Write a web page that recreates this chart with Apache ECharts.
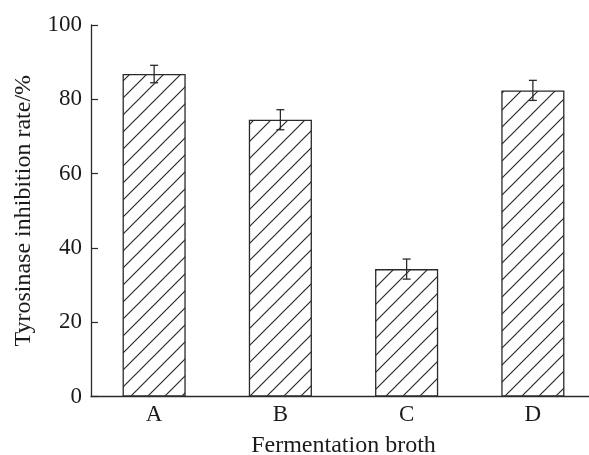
<!DOCTYPE html>
<html><head><meta charset="utf-8">
<script src="https://cdn.jsdelivr.net/npm/echarts@6/dist/echarts.min.js"></script>
<style>html,body{margin:0;padding:0;background:#fff;overflow:hidden}#c{width:589px;height:455px}</style>
</head><body><div id="c"></div>
<script>
var categories = ['A', 'B', 'C', 'D'];
var values = [86.8, 74.5, 34.3, 82.4];
var errors = [2.35, 2.7, 2.7, 2.7];
var yTicks = [0, 20, 40, 60, 80, 100];

function hatch() {
  var s = 17, c = document.createElement('canvas');
  c.width = s; c.height = s;
  var g = c.getContext('2d');
  g.fillStyle = '#fff'; g.fillRect(0, 0, s, s);
  g.strokeStyle = '#2a2a2a'; g.lineWidth = 1.2;
  g.beginPath();
  g.moveTo(-2, s + 2); g.lineTo(s + 2, -2);
  g.moveTo(-2, 2); g.lineTo(2, -2);
  g.moveTo(s - 2, s + 2); g.lineTo(s + 2, s - 2);
  g.stroke();
  return c;
}

var chart = echarts.init(document.getElementById('c'));
var font = 'Liberation Serif';
chart.setOption({
  animation: false,
  grid: {left: 91, width: 505, top: 25, bottom: 58.5, containLabel: false, outerBoundsMode: 'none'},
  xAxis: {
    type: 'category', data: categories,
    axisLine: {lineStyle: {color: '#2a2a2a', width: 1.3}},
    axisTick: {inside: true, length: 7, lineStyle: {color: '#2a2a2a', width: 1.2}},
    axisLabel: {color: '#1a1a1a', fontFamily: font, fontSize: 23, margin: 7},
    name: 'Fermentation broth', nameLocation: 'middle', nameGap: 37,
    nameTextStyle: {color: '#1a1a1a', fontFamily: font, fontSize: 24}
  },
  yAxis: {
    type: 'value', min: 0, max: 100, interval: 20,
    axisLine: {show: true, lineStyle: {color: '#2a2a2a', width: 1.3}},
    axisTick: {show: true, inside: true, length: 7, lineStyle: {color: '#2a2a2a', width: 1.2}},
    splitLine: {show: false},
    axisLabel: {color: '#1a1a1a', fontFamily: font, fontSize: 23, margin: 9,
      formatter: function (v) { return yTicks.indexOf(v) >= 0 ? String(v) : ''; }},
    name: 'Tyrosinase inhibition rate/%', nameLocation: 'middle', nameGap: 55,
    nameTextStyle: {color: '#1a1a1a', fontFamily: font, fontSize: 24}
  },
  series: [{
    type: 'bar', data: values, barWidth: '50%',
    itemStyle: {color: {image: hatch(), repeat: 'repeat'}, borderColor: '#2a2a2a', borderWidth: 1.3}
  }, {
    type: 'custom',
    data: values.map(function (v, i) { return [i, v - errors[i], v + errors[i]]; }),
    renderItem: function (params, api) {
      var lo = api.coord([api.value(0), api.value(1)]);
      var hi = api.coord([api.value(0), api.value(2)]);
      var w = 4;
      var st = {stroke: '#2a2a2a', lineWidth: 1.3};
      return {type: 'group', children: [
        {type: 'line', shape: {x1: hi[0], y1: hi[1], x2: lo[0], y2: lo[1]}, style: st},
        {type: 'line', shape: {x1: hi[0] - w, y1: hi[1], x2: hi[0] + w, y2: hi[1]}, style: st},
        {type: 'line', shape: {x1: lo[0] - w, y1: lo[1], x2: lo[0] + w, y2: lo[1]}, style: st}
      ]};
    },
    z: 10
  }]
});
</script></body></html>
